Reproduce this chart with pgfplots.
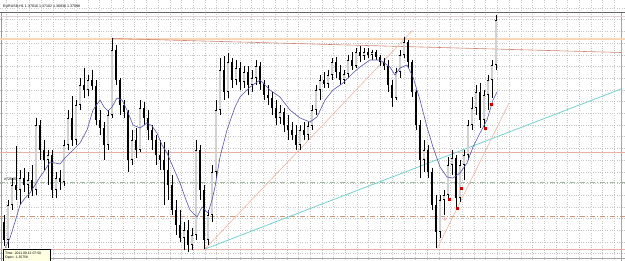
\documentclass[border=0pt]{standalone}
\usepackage{pgfplots}
\pgfplotsset{compat=1.18}
\usepackage{pgfplotstable}
\usepackage{fontspec}
\setmainfont{Liberation Sans}
\definecolor{peach}{RGB}{248,214,180}
\definecolor{trendbr}{RGB}{205,135,115}
\definecolor{salmon}{RGB}{232,175,165}
\definecolor{dgreen}{RGB}{155,188,155}
\definecolor{dbrown}{RGB}{205,150,120}
\definecolor{cyanl}{RGB}{100,205,205}
\definecolor{diag}{RGB}{238,180,160}
\definecolor{mablue}{RGB}{85,85,170}
\definecolor{tipbg}{RGB}{255,255,225}
\pgfplotstableread{
x o h l c
4 222 215 246 240
8 240 200 248 205
12 205 178 210 185
16 185 146 200 190
20 190 170 205 178
24 178 168 192 185
28 185 172 198 180
32 180 165 196 190
36 190 118 195 125
40 125 120 160 150
44 150 140 170 160
48 160 150 185 155
52 155 150 198 190
56 190 172 198 178
60 178 170 190 182
64 182 140 186 145
68 145 110 150 118
72 118 96 146 140
76 140 100 145 105
80 105 78 110 85
84 85 68 98 90
88 90 75 96 80
92 80 70 90 86
96 86 80 125 120
100 120 110 135 128
104 128 122 160 145
108 145 110 150 115
112 115 38 118 50
116 50 45 85 80
120 80 78 115 105
124 105 100 118 112
128 112 110 172 160
132 160 130 165 140
136 140 128 158 150
140 150 100 152 108
144 108 102 125 118
148 118 110 140 130
152 130 125 150 140
156 140 135 165 155
160 155 140 170 160
164 160 142 205 170
168 170 150 200 185
172 185 175 215 210
176 210 200 235 225
180 225 210 242 238
184 238 222 250 230
188 230 220 252 245
192 245 228 250 235
196 235 140 240 150
200 150 145 200 190
204 190 185 249 240
208 240 210 245 215
212 215 165 222 172
216 172 100 178 110
220 110 58 115 70
224 70 56 100 92
228 92 53 98 62
232 62 58 88 80
236 80 60 85 68
240 68 62 90 82
244 82 66 88 72
248 72 66 95 85
252 85 70 92 78
256 78 60 85 66
260 66 62 90 84
264 84 80 100 95
268 95 85 105 98
272 98 92 115 108
276 108 100 125 118
280 118 105 124 112
284 112 108 132 125
288 125 115 140 130
292 130 122 140 135
296 135 125 150 145
300 145 125 150 130
304 130 122 140 135
308 135 122 140 126
312 126 105 130 110
316 110 85 115 90
320 90 75 100 80
324 80 72 88 84
328 84 70 88 75
332 75 58 80 62
336 62 57 78 72
340 72 65 85 80
344 80 70 84 74
348 74 55 78 60
352 60 52 70 66
356 66 48 68 52
360 52 46 62 56
364 56 48 60 52
368 52 48 58 55
372 55 50 60 52
376 52 50 60 57
380 57 55 66 62
384 62 58 70 66
388 66 60 92 85
392 85 80 107 98
396 98 68 100 72
400 72 50 78 55
404 55 37 58 42
408 42 40 68 62
412 62 60 97 92
416 92 90 130 125
420 125 120 178 160
424 160 140 172 150
428 150 145 178 172
432 172 168 210 205
436 205 195 248 232
440 232 195 238 200
444 200 190 215 195
448 195 157 200 165
452 165 150 175 158
456 158 155 207 198
460 198 160 202 165
464 165 150 180 155
468 155 120 160 125
472 125 97 130 108
476 108 85 115 92
480 92 83 128 120
484 120 90 128 95
488 95 75 110 80
492 80 60 98 65
496 65 15 70 20
}\candles
\begin{document}
\begin{tikzpicture}
\begin{axis}[width=625pt,height=261pt,scale only axis,
  xmin=0,xmax=625,ymin=0,ymax=261,y dir=reverse,
  axis line style={draw=none},
  xtick={6,17.7,...,621}, ytick={8,19.7,...,258},
  xticklabels={}, yticklabels={}, major tick length=0pt, tick style={draw=none},
  grid=major, major grid style={dotted, gray!45, line width=0.45pt},
  clip=true]
% frame lines
\addplot[gray!80, line width=1pt] coordinates {(1.5,12) (1.5,261)};
\addplot[gray!70, line width=0.8pt] coordinates {(621,12) (621,261)};
\addplot[gray!70, line width=0.8pt] coordinates {(0,258.5) (625,258.5)};
\addplot[black!60, line width=0.9pt] coordinates {(0,12.5) (625,12.5)};
\addplot[red!15!gray!30, line width=0.6pt] coordinates {(0,16) (625,16)};
% horizontal levels
\addplot[peach, line width=1.3pt] coordinates {(0,39) (625,39)};
\addplot[salmon, line width=0.8pt] coordinates {(0,152) (625,152)};
\addplot[dgreen, line width=0.9pt, dash pattern=on 5pt off 2pt on 1pt off 2pt] coordinates {(0,182) (625,182)};
\addplot[dbrown, line width=0.8pt, dash pattern=on 5pt off 2pt on 1pt off 2pt] coordinates {(0,216) (625,216)};
\addplot[salmon, line width=0.8pt] coordinates {(0,249.5) (625,249.5)};
% trend lines
\addplot[trendbr, line width=0.6pt] coordinates {(112,38.5) (621,52.5)};
\addplot[diag, line width=0.6pt] coordinates {(205,249) (413,30)};
\addplot[cyanl, line width=0.7pt] coordinates {(205,249) (621,89)};
\addplot[diag, line width=0.6pt] coordinates {(437,249) (509,103)};
% wicks
\addplot[draw=none, mark=none, error bars/.cd, y dir=both, y explicit,
  error mark=none, error bar style={black, line width=0.7pt}]
  table[x=x, y expr={(\thisrow{h}+\thisrow{l})/2}, y error expr={(\thisrow{l}-\thisrow{h})/2}] {\candles};
% bodies
\addplot[draw=none, mark=none, error bars/.cd, y dir=both, y explicit,
  error mark=none, error bar style={black, line width=2.1pt}]
  table[x=x, y expr={(\thisrow{o}+\thisrow{c})/2}, y error expr={abs(\thisrow{o}-\thisrow{c})/2}] {\candles};
% bull bodies inner fill
\addplot[draw=none, mark=none, error bars/.cd, y dir=both, y explicit,
  error mark=none, error bar style={gray!35, line width=1.1pt}]
  table[x=x, y expr={(\thisrow{o}+\thisrow{c})/2}, y error expr={\thisrow{c}<\thisrow{o} ? max((\thisrow{o}-\thisrow{c})/2-0.8,0) : 0}] {\candles};
% moving average
\addplot[mablue, line width=0.6pt] coordinates {
(5,248) (10,238) (15,222) (20,205) (25,198) (30,193) (35,185) (40,177) (45,170) (50,162) (55,163) (60,164) (65,158) (73,150) (80,143) (87,130) (93,110) (100,100) (104,107) (108,111) (112,107) (117,98) (122,100) (127,110) (133,125) (140,128) (147,123) (152,126) (157,133) (162,145) (167,153) (173,167) (180,183) (186,200) (190,210) (197,217) (202,207) (208,213) (212,200) (215,187) (220,157) (227,130) (235,107) (240,97) (245,92) (250,87) (260,80) (270,90) (280,97) (290,110) (300,118) (310,122) (317,117) (325,100) (333,90) (343,83) (353,73) (360,67) (370,60) (380,60) (390,67) (395,75) (400,68) (407,65) (413,77) (420,100) (427,127) (433,147) (440,167) (447,177) (453,178) (460,173) (467,163) (473,147) (480,133) (487,120) (493,100) (497,92)};
% markers
\addplot[only marks, mark=square*, mark size=1.1pt, red!80!black] coordinates {(491,104) (485,128) (461,188) (449,199) (457,208)};
\addplot[only marks, mark=o, mark size=1.3pt, red!50] coordinates {(445,219)};
% texts
\node[anchor=west, inner sep=0pt, font=\fontsize{3.6}{4}\selectfont] at (axis cs:3,6) {EURUSD,H1  1.37016 1.37102 1.36930 1.37098};
\node[anchor=west, inner sep=0pt, font=\fontsize{3.6}{4}\selectfont] at (axis cs:4,179.5) {\#72545};
\filldraw[fill=tipbg, draw=black, line width=0.4pt] (axis cs:3,249.5) rectangle (axis cs:50,262);
\node[anchor=west, inner sep=0pt, font=\fontsize{3.4}{4}\selectfont] at (axis cs:5,253) {Time: 2011.09.12 07:50};
\node[anchor=west, inner sep=0pt, font=\fontsize{3.4}{4}\selectfont] at (axis cs:5,258) {Open: 1.35758};
\end{axis}
\pgfresetboundingbox
\useasboundingbox (current axis.south west) rectangle (current axis.north east);
\end{tikzpicture}
\end{document}
